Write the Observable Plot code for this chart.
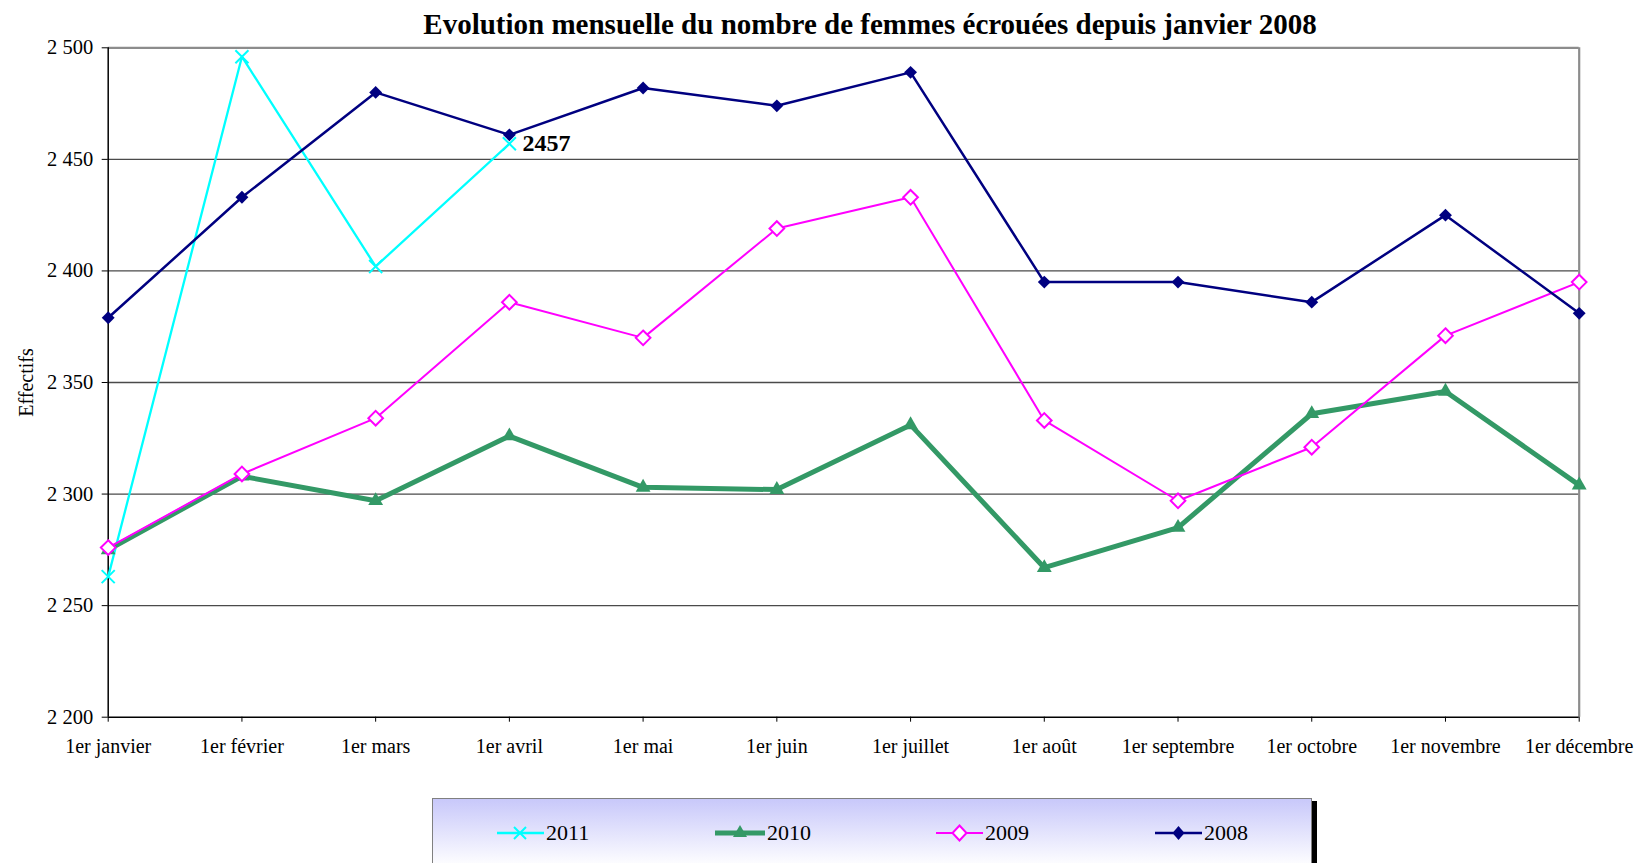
<!DOCTYPE html>
<html>
<head>
<meta charset="utf-8">
<script src="https://cdn.jsdelivr.net/npm/d3@7"></script>
<script src="https://cdn.jsdelivr.net/npm/@observablehq/plot@0.6"></script>
<style>
  html, body { margin: 0; padding: 0; background: #fff; overflow: hidden; }
  #root { position: relative; width: 1638px; height: 863px; font-family: "Liberation Serif", "Times New Roman", serif; }
  #title { position: absolute; top: 10px; left: 870px; transform: translateX(-50%); white-space: nowrap;
           font-size: 29px; line-height: 29px; font-weight: bold; color: #000; }
  #chart { position: absolute; top: 40px; left: 0; }
  #legend { position: absolute; left: 432px; top: 798px; width: 878px; height: 90px;
            background: linear-gradient(to bottom, #c8c8fa 0%, #ffffff 75%);
            border: 1.5px solid #808080; box-shadow: 5px 3px 0 #000; }
  .item { position: absolute; top: 22px; height: 24px; display: flex; align-items: center; font-size: 22px; color: #000; }
  .item svg { display: block; margin-right: 2px; }
</style>
</head>
<body>
<div id="root">
  <div id="title">Evolution mensuelle du nombre de femmes écrouées depuis janvier 2008</div>
  <div id="chart"></div>
  <div id="legend"></div>
</div>
<script>
const months = ["1er janvier","1er février","1er mars","1er avril","1er mai","1er juin","1er juillet","1er août","1er septembre","1er octobre","1er novembre","1er décembre"];
const v2008 = [2379,2433,2480,2461,2482,2474,2489,2395,2395,2386,2425,2381];
const v2009 = [2276,2309,2334,2386,2370,2419,2433,2333,2297,2321,2371,2395];
const v2010 = [2275,2308,2297,2326,2303,2302,2331,2267,2285,2336,2346,2304];
const v2011 = [2263,2496,2402,2457];
const yTicks = [2200,2250,2300,2350,2400,2450,2500];
const seriesNames = ["2011","2010","2009","2008"];
const colors = {"2011": "#00ffff", "2010": "#339966", "2009": "#ff00ff", "2008": "#000080"};

const seriesValues = {"2011": v2011, "2010": v2010, "2009": v2009, "2008": v2008};
const rows = s => seriesValues[s].map((v, i) => ({month: months[i], value: v, series: s}));
const lastLabel = [{month: months[v2011.length - 1], value: v2011[v2011.length - 1]}];
const fmt = d => d3.format(",")(d).replace(/,/g, " ");

const font = "'Liberation Serif', 'Times New Roman', serif";

const chart = Plot.plot({
  width: 1638,
  height: 750,
  marginTop: 7.3,
  marginBottom: 73.3,
  marginLeft: 107.7,
  marginRight: 59.3,
  style: {fontFamily: font, background: "transparent", color: "#000", overflow: "visible"},
  x: {type: "point", domain: months, padding: 0, round: false},
  y: {domain: [yTicks[0], yTicks[yTicks.length - 1]]},
  marks: [
    Plot.ruleY(yTicks.slice(1, -1), {stroke: "#4a4a4a", strokeWidth: 1.3}),
    Plot.ruleY([yTicks[yTicks.length - 1]], {stroke: "#8c8c8c", strokeWidth: 2.2}),
    Plot.ruleX([months[months.length - 1]], {stroke: "#8c8c8c", strokeWidth: 2.2}),
    Plot.ruleX([months[0]], {stroke: "#000", strokeWidth: 1.5}),
    Plot.ruleY([yTicks[0]], {stroke: "#000", strokeWidth: 1.5}),
    Plot.axisY({ticks: yTicks, tickFormat: fmt, tickSize: 6, tickPadding: 9, fontSize: 20.5, label: null}),
    Plot.axisX({tickSize: 5, tickPadding: 17, fontSize: 20, label: null, style: {wordSpacing: "5px"}}),
    Plot.text(["Effectifs"], {text: d => d, frameAnchor: "left", textAnchor: "middle", dx: -81.7, rotate: -90, fontSize: 20}),
    // 2011
    Plot.line(rows("2011"), {x: "month", y: "value", stroke: colors["2011"], strokeWidth: 2.3}),
    Plot.dot(rows("2011"), {x: "month", y: "value", symbol: "times", r: 6, stroke: colors["2011"], strokeWidth: 2}),
    // 2010
    Plot.line(rows("2010"), {x: "month", y: "value", stroke: colors["2010"], strokeWidth: 5}),
    Plot.dot(rows("2010"), {x: "month", y: "value", symbol: "triangle", r: 5.5, fill: colors["2010"], stroke: "none"}),
    // 2009
    Plot.line(rows("2009"), {x: "month", y: "value", stroke: colors["2009"], strokeWidth: 2}),
    Plot.dot(rows("2009"), {x: "month", y: "value", symbol: "diamond2", r: 6.6, fill: "#fff", stroke: colors["2009"], strokeWidth: 2}),
    // 2008
    Plot.line(rows("2008"), {x: "month", y: "value", stroke: colors["2008"], strokeWidth: 2.5}),
    Plot.dot(rows("2008"), {x: "month", y: "value", symbol: "diamond2", r: 5.8, fill: colors["2008"], stroke: "none"}),
    // data label
    Plot.text(lastLabel, {x: "month", y: "value", text: d => String(d.value), dx: 13, textAnchor: "start", fontWeight: "bold", fontSize: 24})
  ]
});
document.getElementById("chart").appendChild(chart);

// Legend
const legend = document.getElementById("legend");
const lefts = [64, 282, 503, 722];
const glyph = {
  "2011": `<line x1="0" y1="12" x2="47" y2="12" stroke="#00ffff" stroke-width="2.3"/><path d="M17,6L29,18M29,6L17,18" stroke="#00ffff" stroke-width="2"/>`,
  "2010": `<line x1="0" y1="12" x2="50" y2="12" stroke="#339966" stroke-width="5" stroke-linecap="round"/><path d="M25,4L32,16L18,16Z" fill="#339966"/>`,
  "2009": `<line x1="0" y1="12" x2="47" y2="12" stroke="#ff00ff" stroke-width="2"/><path d="M23.5,4.5L30.5,12L23.5,19.5L16.5,12Z" fill="#fff" stroke="#ff00ff" stroke-width="2"/>`,
  "2008": `<line x1="0" y1="12" x2="47" y2="12" stroke="#000080" stroke-width="2.5"/><path d="M23.5,5L29.5,12L23.5,19L17.5,12Z" fill="#000080"/>`
};
seriesNames.forEach((s, i) => {
  const it = document.createElement("div");
  it.className = "item";
  it.style.left = lefts[i] + "px";
  const w = s === "2010" ? 50 : 47;
  it.innerHTML = `<svg width="${w}" height="24">${glyph[s]}</svg><span>${s}</span>`;
  legend.appendChild(it);
});
</script>
</body>
</html>
